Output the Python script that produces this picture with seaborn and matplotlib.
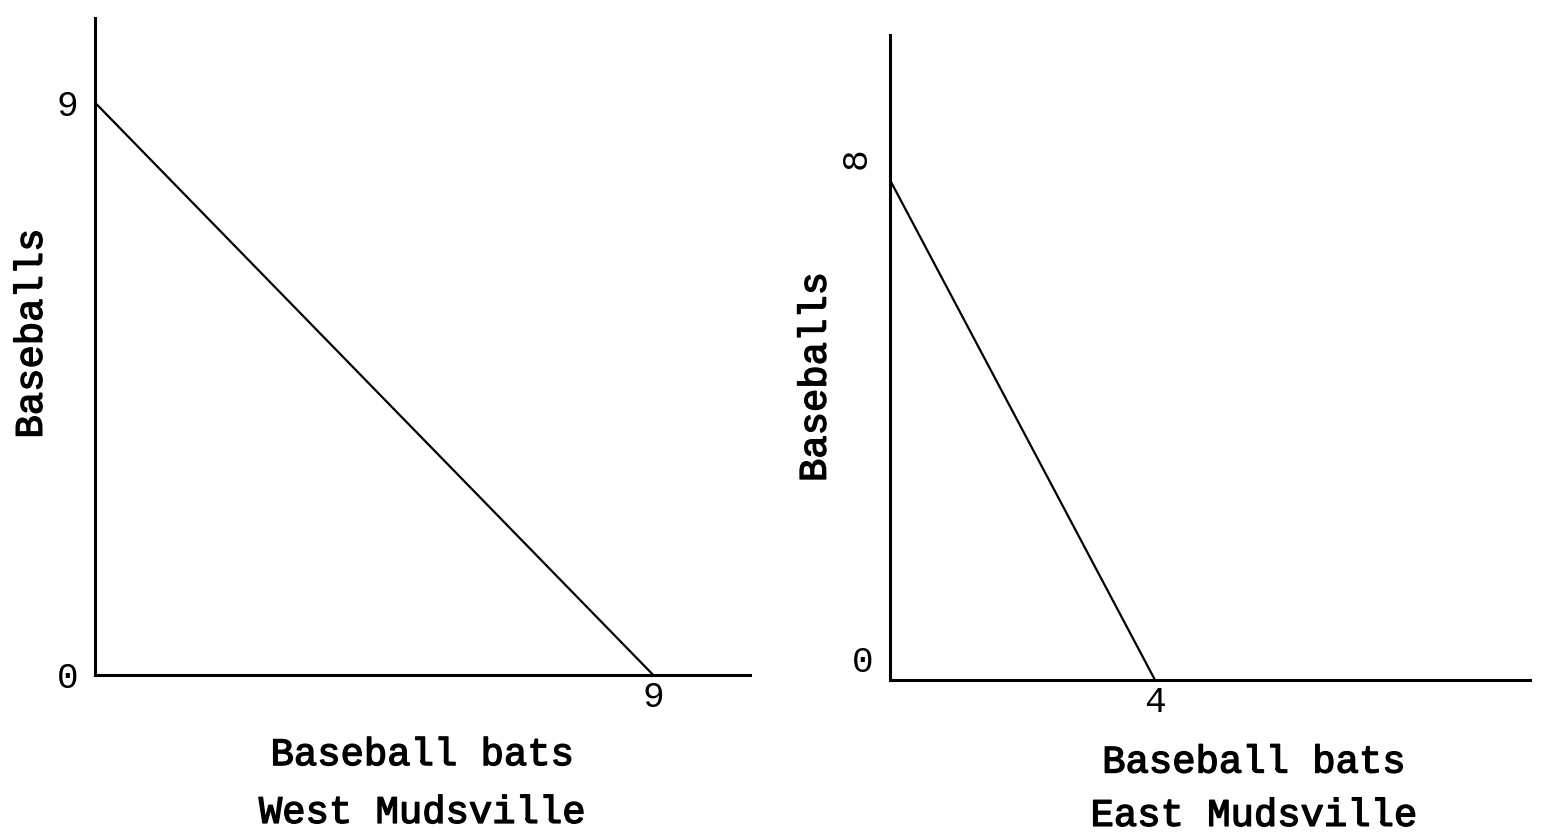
import numpy as np
import pandas as pd
import matplotlib
matplotlib.use("Agg")
import matplotlib.pyplot as plt
import matplotlib.patheffects as pe
import seaborn as sns

# production possibilities
west_bats = [0, 9]
west_balls = [9, 0]
east_bats = [0, 4]
east_balls = [8, 0]

sns.set_style('white')
plt.rcParams['font.family'] = ['Liberation Mono', 'DejaVu Sans Mono']

fig = plt.figure(figsize=(15.43, 8.4), dpi=100)
W, H = 1543, 840

def make_axes(x0, x1, ytop, ybot):
    return fig.add_axes([x0 / W, 1 - ybot / H, (x1 - x0) / W, (ybot - ytop) / H])

ax1 = make_axes(95, 750, 18, 675)
ax2 = make_axes(890, 1530, 35, 680)

fs = 28
thick = [pe.withStroke(linewidth=1.0, foreground='black')]
for ax, bats, balls, town, xmax, ymax, ls in [
        (ax1, west_bats, west_balls, 'West Mudsville', 10.56, 10.33, 1.78),
        (ax2, east_bats, east_balls, 'East Mudsville', 9.66, 10.32, 1.62)]:
    df = pd.DataFrame({'bats': bats, 'balls': balls})
    sns.lineplot(data=df, x='bats', y='balls', ax=ax, color='black', linewidth=1.6,
                 sort=False)
    ax.set_xlim(0, xmax)
    ax.set_ylim(0, ymax)
    sns.despine(ax=ax)
    for s in ['left', 'bottom']:
        ax.spines[s].set_color('black')
        ax.spines[s].set_linewidth(2.2)
    ax.tick_params(length=0, labelsize=26, labelcolor='black')
    ax.set_xticks([bats[1]])
    ax.set_xticklabels([str(bats[1])])
    ax.set_xlabel('Baseball bats\n' + town, fontsize=fs, linespacing=ls,
                  labelpad=16, color='black', path_effects=thick)
    ax.set_ylabel('Baseballs', fontsize=fs, color='black', path_effects=thick)
    ax.patch.set_alpha(0)

ax1.set_yticks([0, west_balls[0]])
ax1.set_yticklabels(['0', str(west_balls[0])])
ax1.tick_params(axis='y', pad=12)
ax1.yaxis.set_label_coords(-0.069, 0.52)

ax2.set_yticks([0.35, east_balls[0] + 0.3])
ax2.set_yticklabels(['0', str(east_balls[0])])
ax2.get_yticklabels()[1].set_rotation(90)
ax2.tick_params(axis='y', pad=12)
ax2.yaxis.set_label_coords(-0.088, 0.47)
ax2.xaxis.set_label_coords(0.569, -0.1)

fig.savefig('out.png', dpi=100, facecolor='white')
